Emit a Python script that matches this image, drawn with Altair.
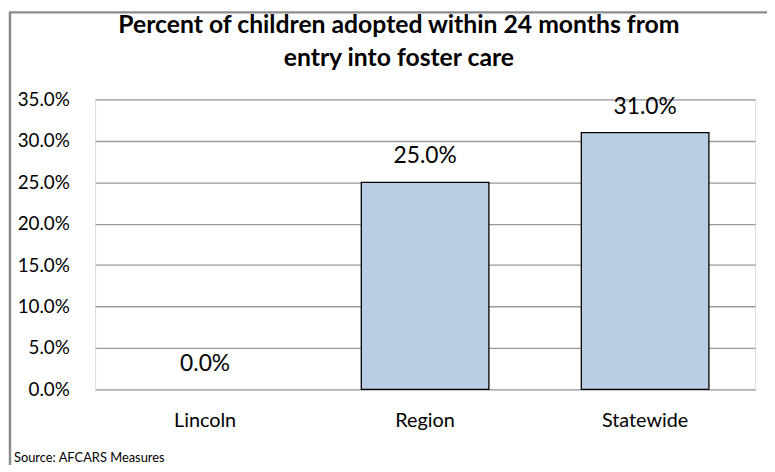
import altair as alt
import pandas as pd

categories = ["Lincoln", "Region", "Statewide"]
values = [0.0, 0.25, 0.31]
title_lines = ["Percent of children adopted within 24 months from", "entry into foster care"]
source_note = ["Source:  AFCARS Measures"]
y_ticks = [0, 0.05, 0.10, 0.15, 0.20, 0.25, 0.30, 0.35]

df = pd.DataFrame({"category": categories, "value": values})
src = pd.DataFrame({"t": source_note})
ttl = pd.DataFrame({"t": ["\n".join(title_lines)]})

FONT = "Lato"

x_enc = alt.X(
    "category:N",
    sort=categories,
    scale=alt.Scale(paddingInner=0.42, paddingOuter=0.21),
    axis=alt.Axis(
        title=None, labelAngle=0, domain=False, ticks=False,
        labelFont=FONT, labelFontSize=20, labelColor="black", labelPadding=22,
    ),
)
y_enc = alt.Y(
    "value:Q",
    scale=alt.Scale(domain=[0, 0.35], nice=False),
    axis=alt.Axis(
        title=None, format=".1%", values=y_ticks, domain=False, ticks=False,
        labelFont=FONT, labelFontSize=19, labelColor="black", labelPadding=26,
        gridColor="#9A9A9A", gridWidth=1.3,
    ),
)

base = alt.Chart(df)
bars = base.mark_bar(color="#B9CDE5", stroke="black", strokeWidth=1.3).encode(
    x=x_enc, y=y_enc,
    strokeOpacity=alt.condition("datum.value > 0", alt.value(1), alt.value(0)),
)
labels = base.mark_text(
    font=FONT, fontSize=23, color="black", baseline="bottom", dy=-14
).encode(x=x_enc, y=y_enc, text=alt.Text("value:Q", format=".1%"))

title = alt.Chart(ttl).mark_text(
    font=FONT, fontSize=25, fontWeight="bold", color="black", align="center",
    baseline="top", lineBreak="\n", lineHeight=33,
).encode(x=alt.value(307), y=alt.value(-87), text="t:N")

source = alt.Chart(src).mark_text(
    font=FONT, fontSize=13, color="black", align="left", baseline="middle"
).encode(x=alt.value(-82), y=alt.value(362), text="t:N")

left_border = alt.Chart(src).mark_rule(color="#8C8C8C", strokeWidth=2.5).encode(
    x=alt.value(-86), y=alt.value(-88), y2=alt.value(400)
)
top_border = alt.Chart(src).mark_rule(color="#8C8C8C", strokeWidth=2.5).encode(
    x=alt.value(-87), x2=alt.value(700), y=alt.value(-88)
)

chart = alt.layer(bars, labels, title, source, left_border, top_border).properties(
    width=667,
    height=293,
    autosize=alt.AutoSizeParams(type="none"),
    padding={"left": 88, "top": 90, "right": 12, "bottom": 74},
).configure_view(stroke=None).configure(background="white")

chart.save("out.html", embed_options={"renderer": "svg", "actions": False})
